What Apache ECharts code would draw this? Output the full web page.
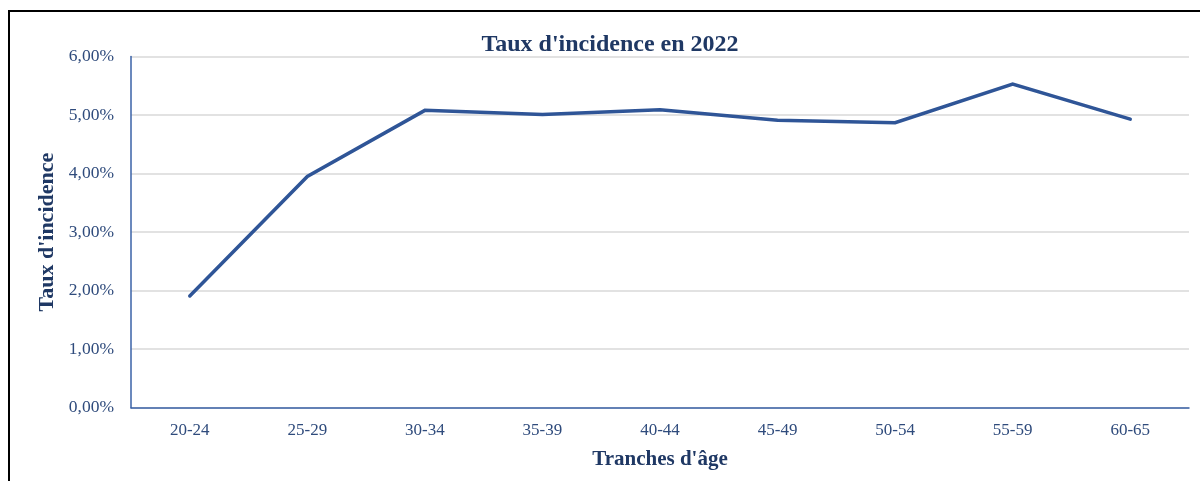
<!DOCTYPE html>
<html>
<head>
<meta charset="utf-8">
<script src="https://cdn.jsdelivr.net/npm/echarts@6/dist/echarts.min.js"></script>
<style>
html,body{margin:0;padding:0;background:#fff;}
#c{width:1200px;height:481px;}
</style>
</head>
<body>
<div id="c"></div>
<script>
const categories = ['20-24','25-29','30-34','35-39','40-44','45-49','50-54','55-59','60-65'];
const incidence = [1.91, 3.95, 5.08, 5.01, 5.09, 4.91, 4.87, 5.53, 4.93];
const titleText = "Taux d'incidence en 2022";
const xTitle = "Tranches d'âge";
const yTitle = "Taux d'incidence";

const serif = '"Liberation Serif", "DejaVu Serif", serif';
const labelColor = '#2F4B7C';
const navy = '#1F3864';

const chart = echarts.init(document.getElementById('c'), null, {renderer:'canvas'});
chart.setOption({
  backgroundColor: '#ffffff',
  animation: false,
  graphic: [
    {type:'rect', shape:{x:9, y:11, width:1400, height:700}, style:{fill:'none', stroke:'#000', lineWidth:2}, silent:true, z:0},
    {type:'text', x:610, y:45, style:{text:titleText, fill:navy, font:'bold 24px ' + serif, textAlign:'center', textVerticalAlign:'middle'}, z:10}
  ],
  grid: {left:131, right:11, top:56.5, bottom:73.3, containLabel:false},
  xAxis: {
    type:'category',
    data: categories,
    boundaryGap: true,
    name: xTitle,
    nameLocation: 'middle',
    nameGap: 41,
    nameTextStyle: {color: navy, fontFamily: serif, fontWeight: 'bold', fontSize: 21},
    axisLine: {show:true, lineStyle:{color:'#3A62A7', width:1.5}},
    axisTick: {show:false},
    axisLabel: {color: labelColor, fontFamily: serif, fontSize: 17, margin: 14},
    splitLine: {show:false}
  },
  yAxis: {
    type:'value',
    min: 0, max: 6, interval: 1,
    name: yTitle,
    nameLocation: 'middle',
    nameGap: 71.5,
    nameTextStyle: {color: navy, fontFamily: serif, fontWeight: 'bold', fontSize: 22},
    axisLine: {show:true, lineStyle:{color:'#3A62A7', width:1.5}},
    axisTick: {show:false},
    axisLabel: {color: labelColor, fontFamily: serif, fontSize: 17.5, margin: 17,
      formatter: v => v.toFixed(2).replace('.', ',') + '%'},
    splitLine: {show:true, lineStyle:{color:'#D9D9D9', width:1.5}}
  },
  series: [{
    type:'line',
    data: incidence,
    symbol:'none',
    lineStyle: {color:'#2F5597', width:3.5, cap:'round', join:'miter'},
    itemStyle: {color:'#2F5597'},
    z: 5
  }]
});
</script>
</body>
</html>
